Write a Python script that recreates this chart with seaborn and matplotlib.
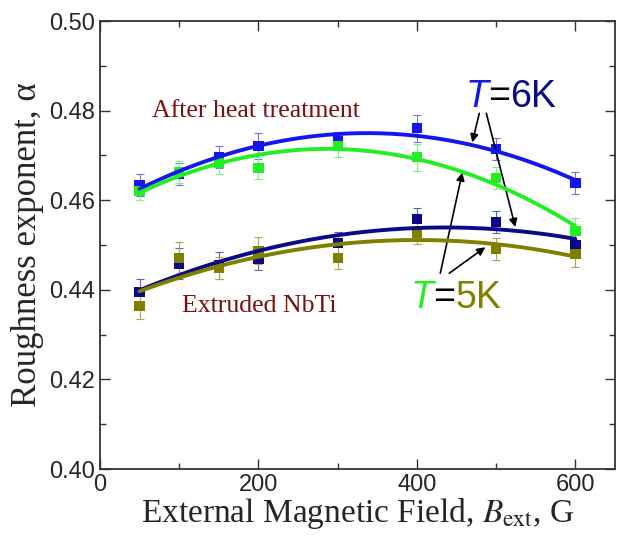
import numpy as np
import pandas as pd
import matplotlib
matplotlib.use("Agg")
import matplotlib.pyplot as plt
import seaborn as sns

# ---- data ----
field = [50, 100, 150, 200, 300, 400, 500, 600]
heat_6K = [0.4634, 0.4658, 0.4696, 0.4721, 0.4732, 0.4761, 0.4714, 0.4638]
heat_6K_err = [0.0025, 0.0025, 0.0025, 0.0030, 0.0020, 0.0030, 0.0025, 0.0025]
heat_5K = [0.4621, 0.4663, 0.4683, 0.4672, 0.4721, 0.4696, 0.4650, 0.4531]
heat_5K_err = [0.0020, 0.0025, 0.0025, 0.0025, 0.0025, 0.0030, 0.0025, 0.0030]
extr_6K = [0.4395, 0.4458, 0.4455, 0.4469, 0.4504, 0.4558, 0.4551, 0.4500]
extr_6K_err = [0.0030, 0.0035, 0.0030, 0.0025, 0.0025, 0.0025, 0.0025, 0.0025]
extr_5K = [0.4364, 0.4471, 0.4448, 0.4487, 0.4471, 0.4527, 0.4491, 0.4480]
extr_5K_err = [0.0030, 0.0035, 0.0025, 0.0030, 0.0025, 0.0025, 0.0025, 0.0030]

series_names = ["heat_6K", "heat_5K", "extr_6K", "extr_5K"]
colors = {"heat_6K": "#1515ee", "heat_5K": "#22ee22", "extr_6K": "#0a0a88", "extr_5K": "#808000"}
err_colors = {"heat_6K": "#7070f0", "heat_5K": "#80f080", "extr_6K": "#6060b0", "extr_5K": "#a8a850"}

rows = []
for name, vals, errs in [("heat_6K", heat_6K, heat_6K_err), ("heat_5K", heat_5K, heat_5K_err),
                         ("extr_6K", extr_6K, extr_6K_err), ("extr_5K", extr_5K, extr_5K_err)]:
    for x, v, e in zip(field, vals, errs):
        rows.append({"B": x, "alpha": v, "err": e, "series": name})
df = pd.DataFrame(rows)

sns.set_theme(style="ticks")
plt.rcParams["font.family"] = ["Liberation Sans", "DejaVu Sans"]
plt.rcParams["mathtext.fontset"] = "stix"

fig = plt.figure(figsize=(6.17, 5.36), dpi=100)
ax = fig.add_axes([100 / 617, 1 - 469 / 536, 515 / 617, 448 / 536])

# quadratic fits (from the data)
fit_rows = []
xs = np.linspace(50, 600, 200)
for name in series_names:
    sub = df[df.series == name]
    c = np.polyfit(sub.B, sub.alpha, 2)
    for x in xs:
        fit_rows.append({"B": x, "alpha": np.polyval(c, x), "series": name})
fit_df = pd.DataFrame(fit_rows)

for name in series_names:
    sub = df[df.series == name]
    ax.errorbar(sub.B, sub.alpha, yerr=sub.err, fmt="none", ecolor=err_colors[name],
                elinewidth=0.8, capsize=3, capthick=0.8, zorder=2)

sns.scatterplot(data=df, x="B", y="alpha", hue="series", palette=colors, marker="s",
                s=55, edgecolor="none", legend=False, ax=ax, zorder=3)
sns.lineplot(data=fit_df, x="B", y="alpha", hue="series", palette=colors, linewidth=2.8,
             legend=False, ax=ax, zorder=4)

ax.set_xlim(0, 650)
ax.set_ylim(0.40, 0.50)
ax.set_xticks([0, 200, 400, 600])
ax.set_xticks([100, 300, 500], minor=True)
ax.set_yticks([0.40, 0.42, 0.44, 0.46, 0.48, 0.50])
ax.set_yticks([0.41, 0.43, 0.45, 0.47, 0.49], minor=True)
ax.set_yticklabels(["0.40", "0.42", "0.44", "0.46", "0.48", "0.50"])
ax.tick_params(which="both", direction="in", top=True, right=True, labelsize=17, color="#333333")
ax.tick_params(which="major", length=7, width=1)
ax.tick_params(which="minor", length=4, width=1)
for s in ax.spines.values():
    s.set_linewidth(1.3)
    s.set_color("#333333")

ax.set_xlabel("External Magnetic Field, $\\mathit{B}_{\\rm ext}$, G", family="Liberation Serif",
              fontsize=24, labelpad=0)
ax.set_ylabel("Roughness exponent, α", family="Liberation Serif", fontsize=25, labelpad=4)

maroon = "#7a0f0f"
ax.text(65.7, 0.4785, "After heat treatment", family="Liberation Serif", fontsize=18.5,
        color=maroon, va="baseline")
ax.text(103.6, 0.4350, "Extruded NbTi", family="Liberation Serif", fontsize=18.5,
        color=maroon, va="baseline")

# T=6K label
t1 = ax.text(461, 0.4807, "T", fontsize=27, style="italic", color="#1515ee", va="baseline")
t2 = ax.annotate("=", xycoords=t1, xy=(1, 0), va="bottom", fontsize=27, color="black")
t3 = ax.annotate("6K", xycoords=t2, xy=(1, 0), va="bottom", fontsize=27, color="#0a0a88")
# T=5K label
u1 = ax.text(391.6, 0.4359, "T", fontsize=27, style="italic", color="#22ee22", va="baseline")
u2 = ax.annotate("=", xycoords=u1, xy=(1, 0), va="bottom", fontsize=27, color="black")
u3 = ax.annotate("5K", xycoords=u2, xy=(1, 0), va="bottom", fontsize=27, color="#808000")

arrow = dict(arrowstyle="-|>", color="black", lw=1.2, mutation_scale=12, shrinkA=0, shrinkB=0)
ax.annotate("", xy=(469.9, 0.4729), xytext=(478.7, 0.4794), arrowprops=arrow)
ax.annotate("", xy=(524.2, 0.4540), xytext=(487.6, 0.4794), arrowprops=arrow)
ax.annotate("", xy=(457.3, 0.4662), xytext=(429.5, 0.4437), arrowprops=arrow)
ax.annotate("", xy=(486.3, 0.4495), xytext=(440.8, 0.4437), arrowprops=arrow)

fig.savefig("out.png", dpi=100)
